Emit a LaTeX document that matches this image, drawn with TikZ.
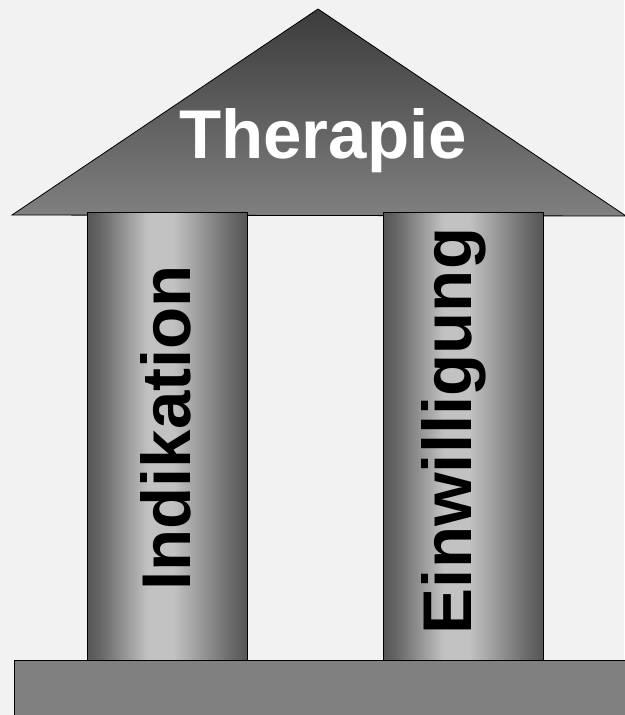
\documentclass[tikz,border=0pt]{standalone}
\usepackage{fontspec}
\setmainfont{Liberation Sans}
\definecolor{fundo}{HTML}{F2F2F2}
\definecolor{dachdunkel}{HTML}{3C3C3C}
\definecolor{grau}{HTML}{808080}
\definecolor{saeulerand}{HTML}{555555}
\definecolor{saeulehell}{HTML}{C2C2C2}
% tikz stretches the part 25bp..75bp over the path
\pgfdeclarehorizontalshading{saeule}{100bp}{color(0bp)=(saeulerand); color(25bp)=(saeulerand); color(29bp)=(saeulerand!85!saeulehell); color(44bp)=(saeulehell); color(52bp)=(saeulehell); color(71bp)=(saeulerand!85!saeulehell); color(75bp)=(saeulerand); color(100bp)=(saeulerand)}
\tikzset{
  pillar/.style={draw=black,line width=.8pt,shading=saeule},
  pillartext/.style={font=\fontsize{69}{69}\selectfont\bfseries,text=black,inner sep=0pt,rotate=90,anchor=base},
}

\begin{document}
\begin{tikzpicture}[x=1pt,y=1pt]
	% fundo
	\useasboundingbox[fill=fundo] (0,0) rectangle (624,-715);
	% sockel
	\draw[fill=grau,line width=.8pt] (14,-660) rectangle (640,-730);
	% dach
	\shadedraw[top color=dachdunkel,bottom color=grau,line width=.8pt] (12,-215) -- (318,-9) -- (626,-216) -- cycle;
	\node[font=\fontsize{69}{69}\selectfont\bfseries,text=white,inner sep=0pt,anchor=base] (therapie) at (323,-158) {Therapie};
	% saeulen
	\shadedraw[pillar] (87,-212) rectangle (247,-660);
	\shadedraw[pillar] (383,-212) rectangle (543,-660);
	\node[pillartext] (indikation) at (190,-428) {Indikation};
	\node[pillartext] (einwilligung) at (471,-431) {Einwilligung};
\end{tikzpicture}
\end{document}
